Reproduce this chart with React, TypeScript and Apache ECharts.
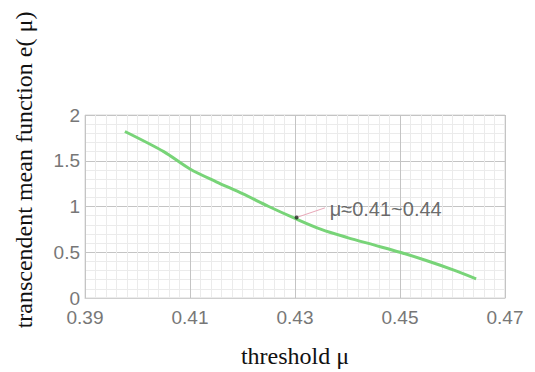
import React, { useEffect, useRef } from "react";
import * as echarts from "echarts";

const muValues = [0.3976, 0.405, 0.41, 0.415, 0.42, 0.425, 0.43, 0.435, 0.44, 0.445, 0.45, 0.455, 0.46, 0.4645];
const eValues = [1.82, 1.6, 1.41, 1.27, 1.14, 1.0, 0.87, 0.75, 0.66, 0.58, 0.5, 0.41, 0.31, 0.21];
const annotPoint = [0.4303, 0.88];
const annotLineEnd = [0.4357, 0.985];
const annotLabelAt = [0.4366, 0.975];
const annotText = "μ≈0.41~0.44";
const xTicks = [0.39, 0.41, 0.43, 0.45, 0.47];
const yTicks = [0, 0.5, 1, 1.5, 2];
const xTitle = "threshold μ";
const yTitle = "transcendent mean function e( μ)";

export default function App() {
  const ref = useRef<HTMLDivElement>(null);
  useEffect(() => {
    if (!ref.current) return;
    const chart = echarts.init(ref.current, undefined, { renderer: "svg" });
    chart.setOption({
      animation: false,
      backgroundColor: "#ffffff",
      grid: { left: 85, right: 30, top: 115, bottom: 74, show: true, borderColor: "#d8d8d8", borderWidth: 1 },
      xAxis: {
        type: "value",
        min: xTicks[0],
        max: xTicks[xTicks.length - 1],
        interval: 0.02,
        name: xTitle,
        nameLocation: "middle",
        nameGap: 46,
        nameTextStyle: { fontFamily: "Liberation Serif", fontSize: 24, color: "#111" },
        axisLine: { show: true, lineStyle: { color: "#cfcfcf" } },
        axisTick: { show: false },
        axisLabel: {
          fontFamily: "Liberation Sans",
          fontSize: 19,
          color: "#777",
          margin: 10,
          formatter: (v: number) => v.toFixed(2),
        },
        splitLine: { show: true, lineStyle: { color: "#c4c4c4", width: 1 } },
        minorTick: { show: false, splitNumber: 10 },
        minorSplitLine: { show: true, lineStyle: { color: "#ebebeb", width: 1 } },
      },
      yAxis: {
        type: "value",
        min: yTicks[0],
        max: yTicks[yTicks.length - 1],
        interval: 0.5,
        axisLine: { show: false },
        axisTick: { show: false },
        axisLabel: {
          fontFamily: "Liberation Sans",
          fontSize: 19,
          color: "#777",
          margin: 5,
        },
        splitLine: { show: true, lineStyle: { color: "#c4c4c4", width: 1 } },
        minorTick: { show: false, splitNumber: 5 },
        minorSplitLine: { show: true, lineStyle: { color: "#ebebeb", width: 1 } },
      },
      graphic: [
        {
          type: "text",
          x: 24,
          y: 170,
          rotation: Math.PI / 2,
          style: {
            text: yTitle,
            fontFamily: "Liberation Serif",
            fontSize: 24,
            fill: "#111",
            align: "center",
            verticalAlign: "middle",
          },
        },
      ],
      series: [
        {
          type: "line",
          data: muValues.map((m, i) => [m, eValues[i]]),
          symbol: "none",
          smooth: 0.3,
          lineStyle: { color: "#78d478", width: 3 },
          z: 3,
        },
        {
          type: "line",
          data: [annotPoint, annotLineEnd],
          symbol: "none",
          lineStyle: { color: "#e8a8b8", width: 1 },
          z: 4,
        },
        {
          type: "scatter",
          data: [annotPoint],
          symbolSize: 4,
          itemStyle: { color: "#222" },
          z: 5,
        },
        {
          type: "scatter",
          data: [annotLabelAt],
          symbolSize: 0,
          label: {
            show: true,
            position: "right",
            distance: 0,
            formatter: annotText,
            fontFamily: "Liberation Sans",
            fontSize: 20,
            color: "#444",
          },
          z: 5,
        },
      ],
    });
    return () => chart.dispose();
  }, []);
  return <div ref={ref} style={{ width: 535, height: 372, position: "absolute", left: 0, top: 0 }} />;
}
